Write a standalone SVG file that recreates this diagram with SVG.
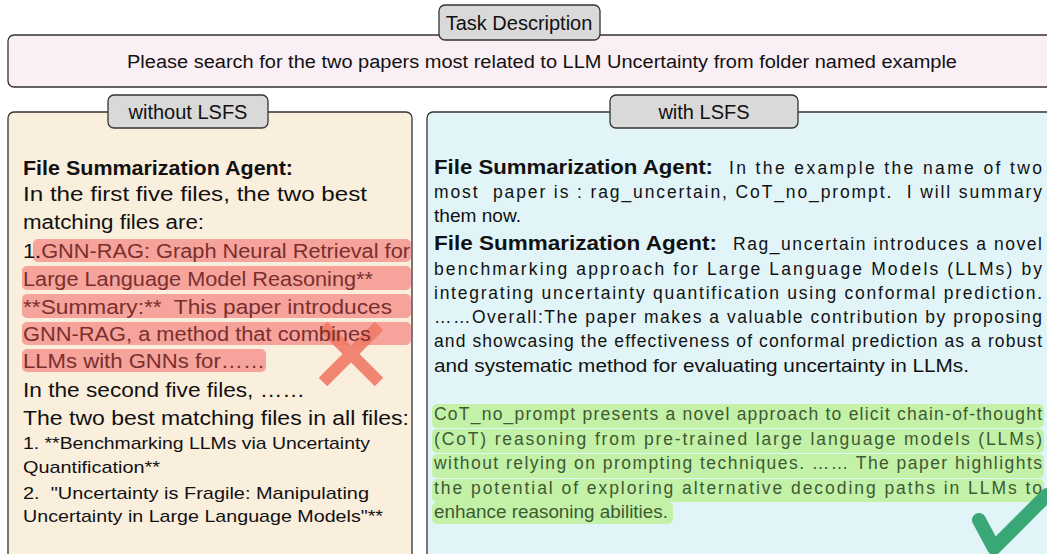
<svg xmlns="http://www.w3.org/2000/svg" width="1047" height="554" viewBox="0 0 1047 554">
<style>
.box{stroke:#333;stroke-width:1.3}
.tab{fill:#d9d9d9;stroke:#333;stroke-width:1.3}
.t{font-family:"Liberation Sans",Arial,sans-serif;fill:#111;white-space:pre}
.lbl{font-size:20px;text-anchor:middle}
.l{font-size:20px}
.ls{font-size:17px}
.r{font-size:17.5px}
.b{font-weight:bold;font-size:20px}
.red{fill:#f5a39b}
.redt{fill:#7a2f2f}
.grn{fill:#c3f1a8}
.grnt{fill:#3e5a33}
</style>
<rect width="1047" height="554" fill="#ffffff"/>
<g id="task">
<rect class="box" x="8" y="35" width="1060" height="52" rx="6" fill="#faeff5"/>
<rect class="tab" x="439" y="5" width="161" height="35" rx="6"/>
<text class="t lbl" x="519" y="30">Task Description</text>
<text class="t" x="127" y="68" font-size="18" textLength="830" lengthAdjust="spacingAndGlyphs">Please search for the two papers most related to LLM Uncertainty from folder named example</text>
</g>
<g id="without">
<rect class="box" x="8" y="112" width="404" height="480" rx="6" fill="#faeedd"/>
<rect class="tab" x="108" y="95" width="160" height="33" rx="6"/>
<text class="t lbl" x="188" y="119">without LSFS</text>
<rect class="red" x="33" y="239" width="378" height="23" rx="5"/>
<rect class="red" x="22" y="266" width="389" height="24" rx="5"/>
<rect class="red" x="22" y="294" width="389" height="24" rx="5"/>
<rect class="red" x="22" y="322" width="389" height="23" rx="5"/>
<rect class="red" x="22" y="349" width="244" height="23" rx="5"/>
<path d="M323 326 L379 382 M379 326 L323 382" stroke="#f07a66" stroke-width="12" opacity="0.9"/>
<text class="t b" x="23" y="175" textLength="270" lengthAdjust="spacingAndGlyphs">File Summarization Agent:</text>
<text class="t l" x="23" y="201" textLength="344" lengthAdjust="spacingAndGlyphs">In the first five files, the two best</text>
<text class="t l" x="23" y="229" textLength="181" lengthAdjust="spacingAndGlyphs">matching files are:</text>
<text class="t l" x="23" y="258" textLength="387" lengthAdjust="spacingAndGlyphs">1.<tspan class="redt">GNN-RAG: Graph Neural Retrieval for</tspan></text>
<text class="t l redt" x="23" y="286" textLength="350" lengthAdjust="spacingAndGlyphs">Large Language Model Reasoning**</text>
<text class="t l redt" x="23" y="314" textLength="369" lengthAdjust="spacingAndGlyphs">**Summary:**  This paper introduces</text>
<text class="t l redt" x="23" y="341" textLength="348" lengthAdjust="spacingAndGlyphs">GNN-RAG, a method that combines</text>
<text class="t l redt" x="23" y="368" textLength="242" lengthAdjust="spacingAndGlyphs">LLMs with GNNs for……</text>
<text class="t l" x="23" y="397" textLength="282" lengthAdjust="spacingAndGlyphs">In the second five files, ……</text>
<text class="t l" x="23" y="425" textLength="386" lengthAdjust="spacingAndGlyphs">The two best matching files in all files:</text>
<text class="t ls" x="23" y="449" textLength="347" lengthAdjust="spacingAndGlyphs">1. **Benchmarking LLMs via Uncertainty</text>
<text class="t ls" x="23" y="473" textLength="137" lengthAdjust="spacingAndGlyphs">Quantification**</text>
<text class="t ls" x="23" y="499" textLength="346" lengthAdjust="spacingAndGlyphs">2.  "Uncertainty is Fragile: Manipulating</text>
<text class="t ls" x="23" y="522" textLength="360" lengthAdjust="spacingAndGlyphs">Uncertainty in Large Language Models"**</text>
</g>
<g id="with">
<rect class="box" x="427" y="112" width="640" height="480" rx="6" fill="#e1f4f7"/>
<rect class="tab" x="610" y="95" width="188" height="33" rx="6"/>
<text class="t lbl" x="704" y="119">with LSFS</text>
<text class="t b" x="434" y="174" textLength="279" lengthAdjust="spacingAndGlyphs">File Summarization Agent:</text>
<text class="t r" x="729" y="174" textLength="313" lengthAdjust="spacing">In the example the name of two</text>
<text class="t r" x="434" y="198" textLength="608" lengthAdjust="spacing">most  paper is : rag_uncertain, CoT_no_prompt.  I will summary</text>
<text class="t r" x="434" y="222" textLength="87" lengthAdjust="spacingAndGlyphs">them now.</text>
<text class="t b" x="434" y="250" textLength="283" lengthAdjust="spacingAndGlyphs">File Summarization Agent:</text>
<text class="t r" x="733" y="250" textLength="309" lengthAdjust="spacing">Rag_uncertain introduces a novel</text>
<text class="t r" x="434" y="275" textLength="608" lengthAdjust="spacing">benchmarking approach for Large Language Models (LLMs) by</text>
<text class="t r" x="434" y="299" textLength="608" lengthAdjust="spacing">integrating uncertainty quantification using conformal prediction.</text>
<text class="t r" x="434" y="323" textLength="608" lengthAdjust="spacing">……Overall:The paper makes a valuable contribution by proposing</text>
<text class="t r" x="434" y="347" textLength="608" lengthAdjust="spacing">and showcasing the effectiveness of conformal prediction as a robust</text>
<text class="t r" x="434" y="372" textLength="535" lengthAdjust="spacingAndGlyphs">and systematic method for evaluating uncertainty in LLMs.</text>
<rect class="grn" x="432" y="404" width="612" height="24" rx="5"/>
<rect class="grn" x="432" y="429" width="612" height="24" rx="5"/>
<rect class="grn" x="432" y="454" width="612" height="24" rx="5"/>
<rect class="grn" x="432" y="479" width="612" height="23" rx="5"/>
<rect class="grn" x="432" y="502" width="241" height="22" rx="5"/>
<text class="t r grnt" x="434" y="420" textLength="608" lengthAdjust="spacing">CoT_no_prompt presents a novel approach to elicit chain-of-thought</text>
<text class="t r grnt" x="434" y="445" textLength="608" lengthAdjust="spacing">(CoT) reasoning from pre-trained large language models (LLMs)</text>
<text class="t r grnt" x="434" y="469" textLength="608" lengthAdjust="spacing">without relying on prompting techniques. …… The paper highlights</text>
<text class="t r grnt" x="434" y="494" textLength="608" lengthAdjust="spacing">the potential of exploring alternative decoding paths in LLMs to</text>
<text class="t r grnt" x="434" y="518" textLength="234" lengthAdjust="spacingAndGlyphs">enhance reasoning abilities.</text>
<path d="M979 520 L994 548 L1047 495" fill="none" stroke="#3aa876" stroke-width="14" stroke-linecap="round" stroke-linejoin="round"/>
</g>
</svg>
